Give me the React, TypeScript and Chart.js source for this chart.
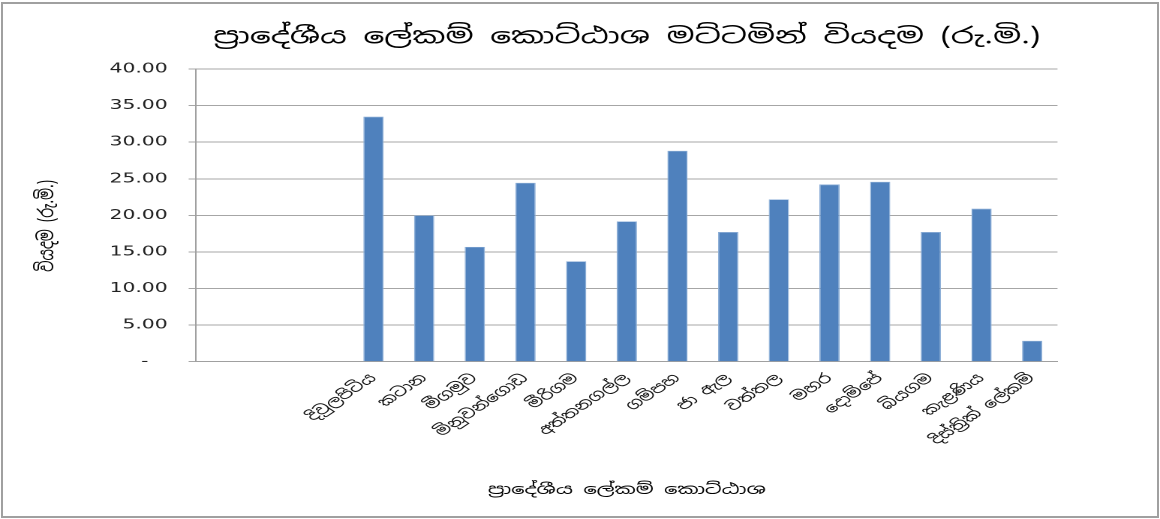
import React, { useEffect, useRef } from 'react';
import { Chart, registerables } from 'chart.js';

Chart.register(...registerables);

// ---- data ----
const TITLE = 'ප්‍රාදේශීය ලේකම් කොට්ඨාශ මට්ටමින් වියදම (රු.මි.)';
const X_TITLE = 'ප්‍රාදේශීය ලේකම් කොට්ඨාශ';
const Y_TITLE = 'වියදම (රු.මි.)';

const CATEGORIES = [
  '', '', '',
  'දිවුලපිටිය',
  'කටාන',
  'මීගමුව',
  'මිනුවන්ගොඩ',
  'මීරිගම',
  'අත්තනගල්ල',
  'ගම්පහ',
  'ජා ඇල',
  'වත්තල',
  'මහර',
  'දොම්පේ',
  'බියගම',
  'කැළණිය',
  'දිස්ත්‍රික් ලේකම්',
];

const EXPENDITURE = [
  null, null, null,
  33.5, 20.0, 15.7, 24.46, 13.73, 19.18, 28.83, 17.73, 22.19, 24.23, 24.6, 17.73, 20.92, 2.87,
];

const Y_MIN = 0;
const Y_MAX = 40;
const Y_STEP = 5;

// ---- layout (chart drawn narrow then stretched horizontally like the reference) ----
const OUT_W = 1160;
const OUT_H = 519;
const STRETCH = 1.5;
const CANVAS_W = Math.round(OUT_W / STRETCH);

const SINHALA_FONT = "'Noto Sans Sinhala', 'Iskoola Pota', 'Noto Serif Sinhala', 'Lohit Sinhala', 'LKLUG', 'DejaVu Sans', sans-serif";
const NUM_FONT = "'DejaVu Sans', Verdana, sans-serif";

export default function App() {
  const ref = useRef<HTMLCanvasElement | null>(null);

  useEffect(() => {
    if (!ref.current) return;
    const chart = new Chart(ref.current, {
      type: 'bar',
      data: {
        labels: CATEGORIES,
        datasets: [
          {
            data: EXPENDITURE as any,
            backgroundColor: '#4F81BD',
            borderColor: '#8EB0D8',
            borderWidth: 0.7,
            barPercentage: 0.4,
            categoryPercentage: 1,
          },
        ],
      },
      options: {
        responsive: false,
        animation: false,
        devicePixelRatio: 2,
        layout: { padding: { left: 0, right: CANVAS_W - 704.7, top: 0, bottom: 0 } },
        plugins: {
          legend: { display: false },
          tooltip: { enabled: false },
          title: {
            display: true,
            text: TITLE,
            fullSize: false,
            color: '#000',
            font: { family: SINHALA_FONT, size: 22, weight: 'normal' },
            padding: { top: 24, bottom: 18.6 },
          },
        },
        scales: {
          x: {
            grid: { display: false, drawTicks: false },
            border: { display: true, color: '#a0a0a0', width: 1 },
            ticks: {
              autoSkip: false,
              minRotation: 45,
              maxRotation: 45,
              padding: 9,
              color: '#111',
              font: { family: SINHALA_FONT, size: 13 },
            },
            title: {
              display: true,
              text: X_TITLE,
              color: '#000',
              font: { family: SINHALA_FONT, size: 14 },
              padding: { top: 0, bottom: 20.6 },
            },
            afterFit: (s: any) => {
              s.height = OUT_H - 361.7;
            },
          },
          y: {
            min: Y_MIN,
            max: Y_MAX,
            ticks: {
              stepSize: Y_STEP,
              padding: 14,
              color: '#222',
              font: { family: NUM_FONT, size: 13.5 },
              callback: (v: any) => (Number(v) === 0 ? '-   ' : Number(v).toFixed(2)),
            },
            grid: { color: '#a6a6a6', lineWidth: 1, tickLength: 5 },
            border: { display: true, color: '#a0a0a0', width: 1 },
            title: {
              display: true,
              text: Y_TITLE + '   ',
              color: '#000',
              font: { family: SINHALA_FONT, size: 14 },
              padding: { top: 23, bottom: 0 },
            },
            afterFit: (s: any) => {
              s.width = 130.7;
            },
          },
        },
      },
    });
    return () => chart.destroy();
  }, []);

  return (
    <div style={{ position: 'fixed', left: 0, top: 0, width: OUT_W, height: OUT_H, background: '#fff', overflow: 'hidden' }}>
      <canvas
        ref={ref}
        width={CANVAS_W}
        height={OUT_H}
        style={{
          position: 'absolute',
          left: 0,
          top: 0,
          width: CANVAS_W,
          height: OUT_H,
          transform: `scaleX(${OUT_W / CANVAS_W})`,
          transformOrigin: '0 0',
        }}
      />
      <div
        style={{
          position: 'absolute',
          left: 1,
          top: 2,
          width: 1158,
          height: 516,
          boxSizing: 'border-box',
          border: '2px solid #a0a0a0',
          pointerEvents: 'none',
        }}
      />
    </div>
  );
}
